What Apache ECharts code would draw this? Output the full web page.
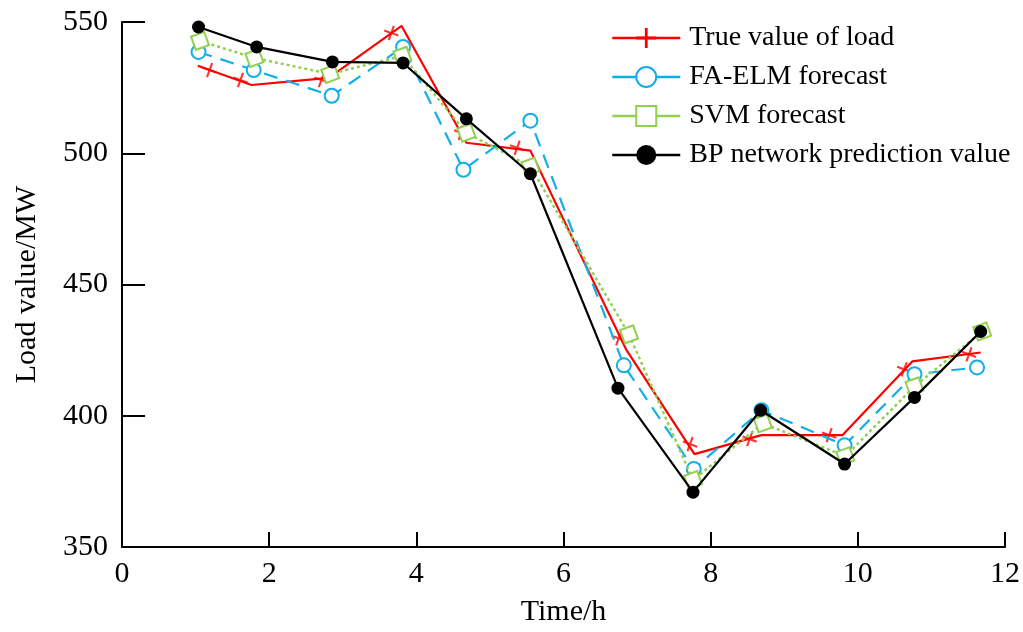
<!DOCTYPE html>
<html>
<head>
<meta charset="utf-8">
<script src="https://cdn.jsdelivr.net/npm/echarts@6/dist/echarts.min.js"></script>
<style>
  html, body { margin: 0; padding: 0; background: #fff; }
  #chart { width: 1023px; height: 632px; }
</style>
</head>
<body>
<div id="chart"></div>
<script>
// 数据
var seriesNames = ['True value of load', 'FA-ELM forecast', 'SVM forecast', 'BP network prediction value'];

var trueTime = [1.03, 1.76, 2.81, 3.80, 4.68, 5.55, 6.85, 7.78, 8.69, 9.79, 10.74, 11.67];
var trueLoad = [533.3, 526.0, 528.7, 548.5, 504.0, 501.0, 425.3, 385.4, 392.6, 392.6, 420.7, 424.1];
// 红色 + 标记点（不在折线顶点上）
var trueMarkTime = [1.19, 1.61, 2.71, 3.66, 4.61, 5.37, 6.75, 7.72, 8.53, 9.61, 10.63, 11.51];
var trueMarkLoad = [531.7, 527.9, 527.9, 545.8, 507.8, 502.1, 429.5, 389.2, 391.1, 392.6, 417.7, 423.4];

var elmTime = [1.04, 1.79, 2.85, 3.82, 4.64, 5.55, 6.82, 7.77, 8.69, 9.82, 10.77, 11.62];
var elmLoad = [538.6, 531.7, 521.9, 540.5, 493.7, 512.4, 419.2, 379.7, 402.1, 388.8, 415.8, 418.4];

var svmTime = [1.06, 1.80, 2.83, 3.81, 4.68, 5.55, 6.89, 7.76, 8.71, 9.83, 10.77, 11.69];
var svmLoad = [542.8, 536.3, 530.2, 537.1, 507.8, 494.9, 431.0, 375.5, 397.1, 384.6, 411.2, 432.1];

var bpTime = [1.04, 1.83, 2.86, 3.82, 4.68, 5.55, 6.74, 7.76, 8.68, 9.82, 10.77, 11.67];
var bpLoad = [548.1, 540.5, 534.8, 534.4, 513.1, 492.2, 410.5, 370.9, 402.1, 381.6, 407.0, 432.1];

var xTicks = [0, 2, 4, 6, 8, 10, 12];
var yTicks = [350, 400, 450, 500, 550];

function pairs(xs, ys) {
  return xs.map(function (x, i) { return [x, ys[i]]; });
}

var plusPath = 'path://M4.3,0h1.4v4.3h4.3v1.4h-4.3v4.3h-1.4v-4.3h-4.3v-1.4h4.3z';
var font = "'Liberation Serif', 'Times New Roman', serif";

var myChart = echarts.init(document.getElementById('chart'));
var option = {
  animation: false,
  backgroundColor: '#fff',
  textStyle: { fontFamily: font },
  grid: {
    left: 122,
    right: 16,
    top: 22,
    bottom: 84
  },
  legend: {
    data: seriesNames,
    orient: 'vertical',
    left: 606,
    top: 19,
    itemWidth: 68,
    itemHeight: 25,
    itemGap: 11,
    symbolRotate: 0,
    lineStyle: { type: 'solid', width: 2.5 },
    textStyle: {
      fontFamily: font,
      fontSize: 28,
      color: '#000',
      padding: [0, 0, 0, 4]
    }
  },
  xAxis: {
    type: 'value',
    min: xTicks[0],
    max: xTicks[xTicks.length - 1],
    interval: 2,
    name: 'Time/h',
    nameLocation: 'middle',
    nameGap: 50,
    nameTextStyle: { fontFamily: font, fontSize: 30, color: '#000' },
    axisLine: { lineStyle: { color: '#000', width: 2 } },
    axisTick: { inside: true, length: 15, lineStyle: { color: '#000', width: 2 } },
    axisLabel: { fontFamily: font, fontSize: 30, color: '#000', margin: 12 },
    splitLine: { show: false }
  },
  yAxis: {
    type: 'value',
    min: yTicks[0],
    max: yTicks[yTicks.length - 1],
    interval: 50,
    name: 'Load value/MW',
    nameLocation: 'middle',
    nameRotate: 90,
    nameGap: 80,
    nameTextStyle: { fontFamily: font, fontSize: 30, color: '#000' },
    axisLine: { show: true, lineStyle: { color: '#000', width: 2 } },
    axisTick: { show: true, inside: true, length: 23, lineStyle: { color: '#000', width: 2 } },
    axisLabel: { fontFamily: font, fontSize: 30, color: '#000', margin: 14 },
    splitLine: { show: false }
  },
  series: [
    {
      name: seriesNames[0],
      type: 'line',
      data: pairs(trueTime, trueLoad),
      symbol: plusPath,
      showSymbol: false,
      itemStyle: { color: '#ff0000' },
      lineStyle: { color: '#ff0000', width: 2.2 },
      z: 2
    },
    {
      name: seriesNames[0],
      type: 'scatter',
      data: pairs(trueMarkTime, trueMarkLoad),
      symbol: plusPath,
      symbolSize: 15,
      symbolRotate: -20,
      itemStyle: { color: '#ff0000' },
      z: 2
    },
    {
      name: seriesNames[1],
      type: 'line',
      data: pairs(elmTime, elmLoad),
      symbol: 'emptyCircle',
      symbolSize: 14,
      itemStyle: { color: '#12aee8', borderWidth: 2 },
      lineStyle: { color: '#12aee8', width: 2.2, type: [14, 9] },
      z: 3
    },
    {
      name: seriesNames[2],
      type: 'line',
      data: pairs(svmTime, svmLoad),
      symbol: 'emptyRect',
      symbolSize: 14,
      symbolRotate: 20,
      itemStyle: { color: '#92d050', borderWidth: 2 },
      lineStyle: { color: '#92d050', width: 2.5, type: [3, 3] },
      z: 4
    },
    {
      name: seriesNames[3],
      type: 'line',
      data: pairs(bpTime, bpLoad),
      symbol: 'circle',
      symbolSize: 13,
      itemStyle: { color: '#000' },
      lineStyle: { color: '#000', width: 2.2 },
      z: 5
    }
  ]
};
myChart.setOption(option);
</script>
</body>
</html>
